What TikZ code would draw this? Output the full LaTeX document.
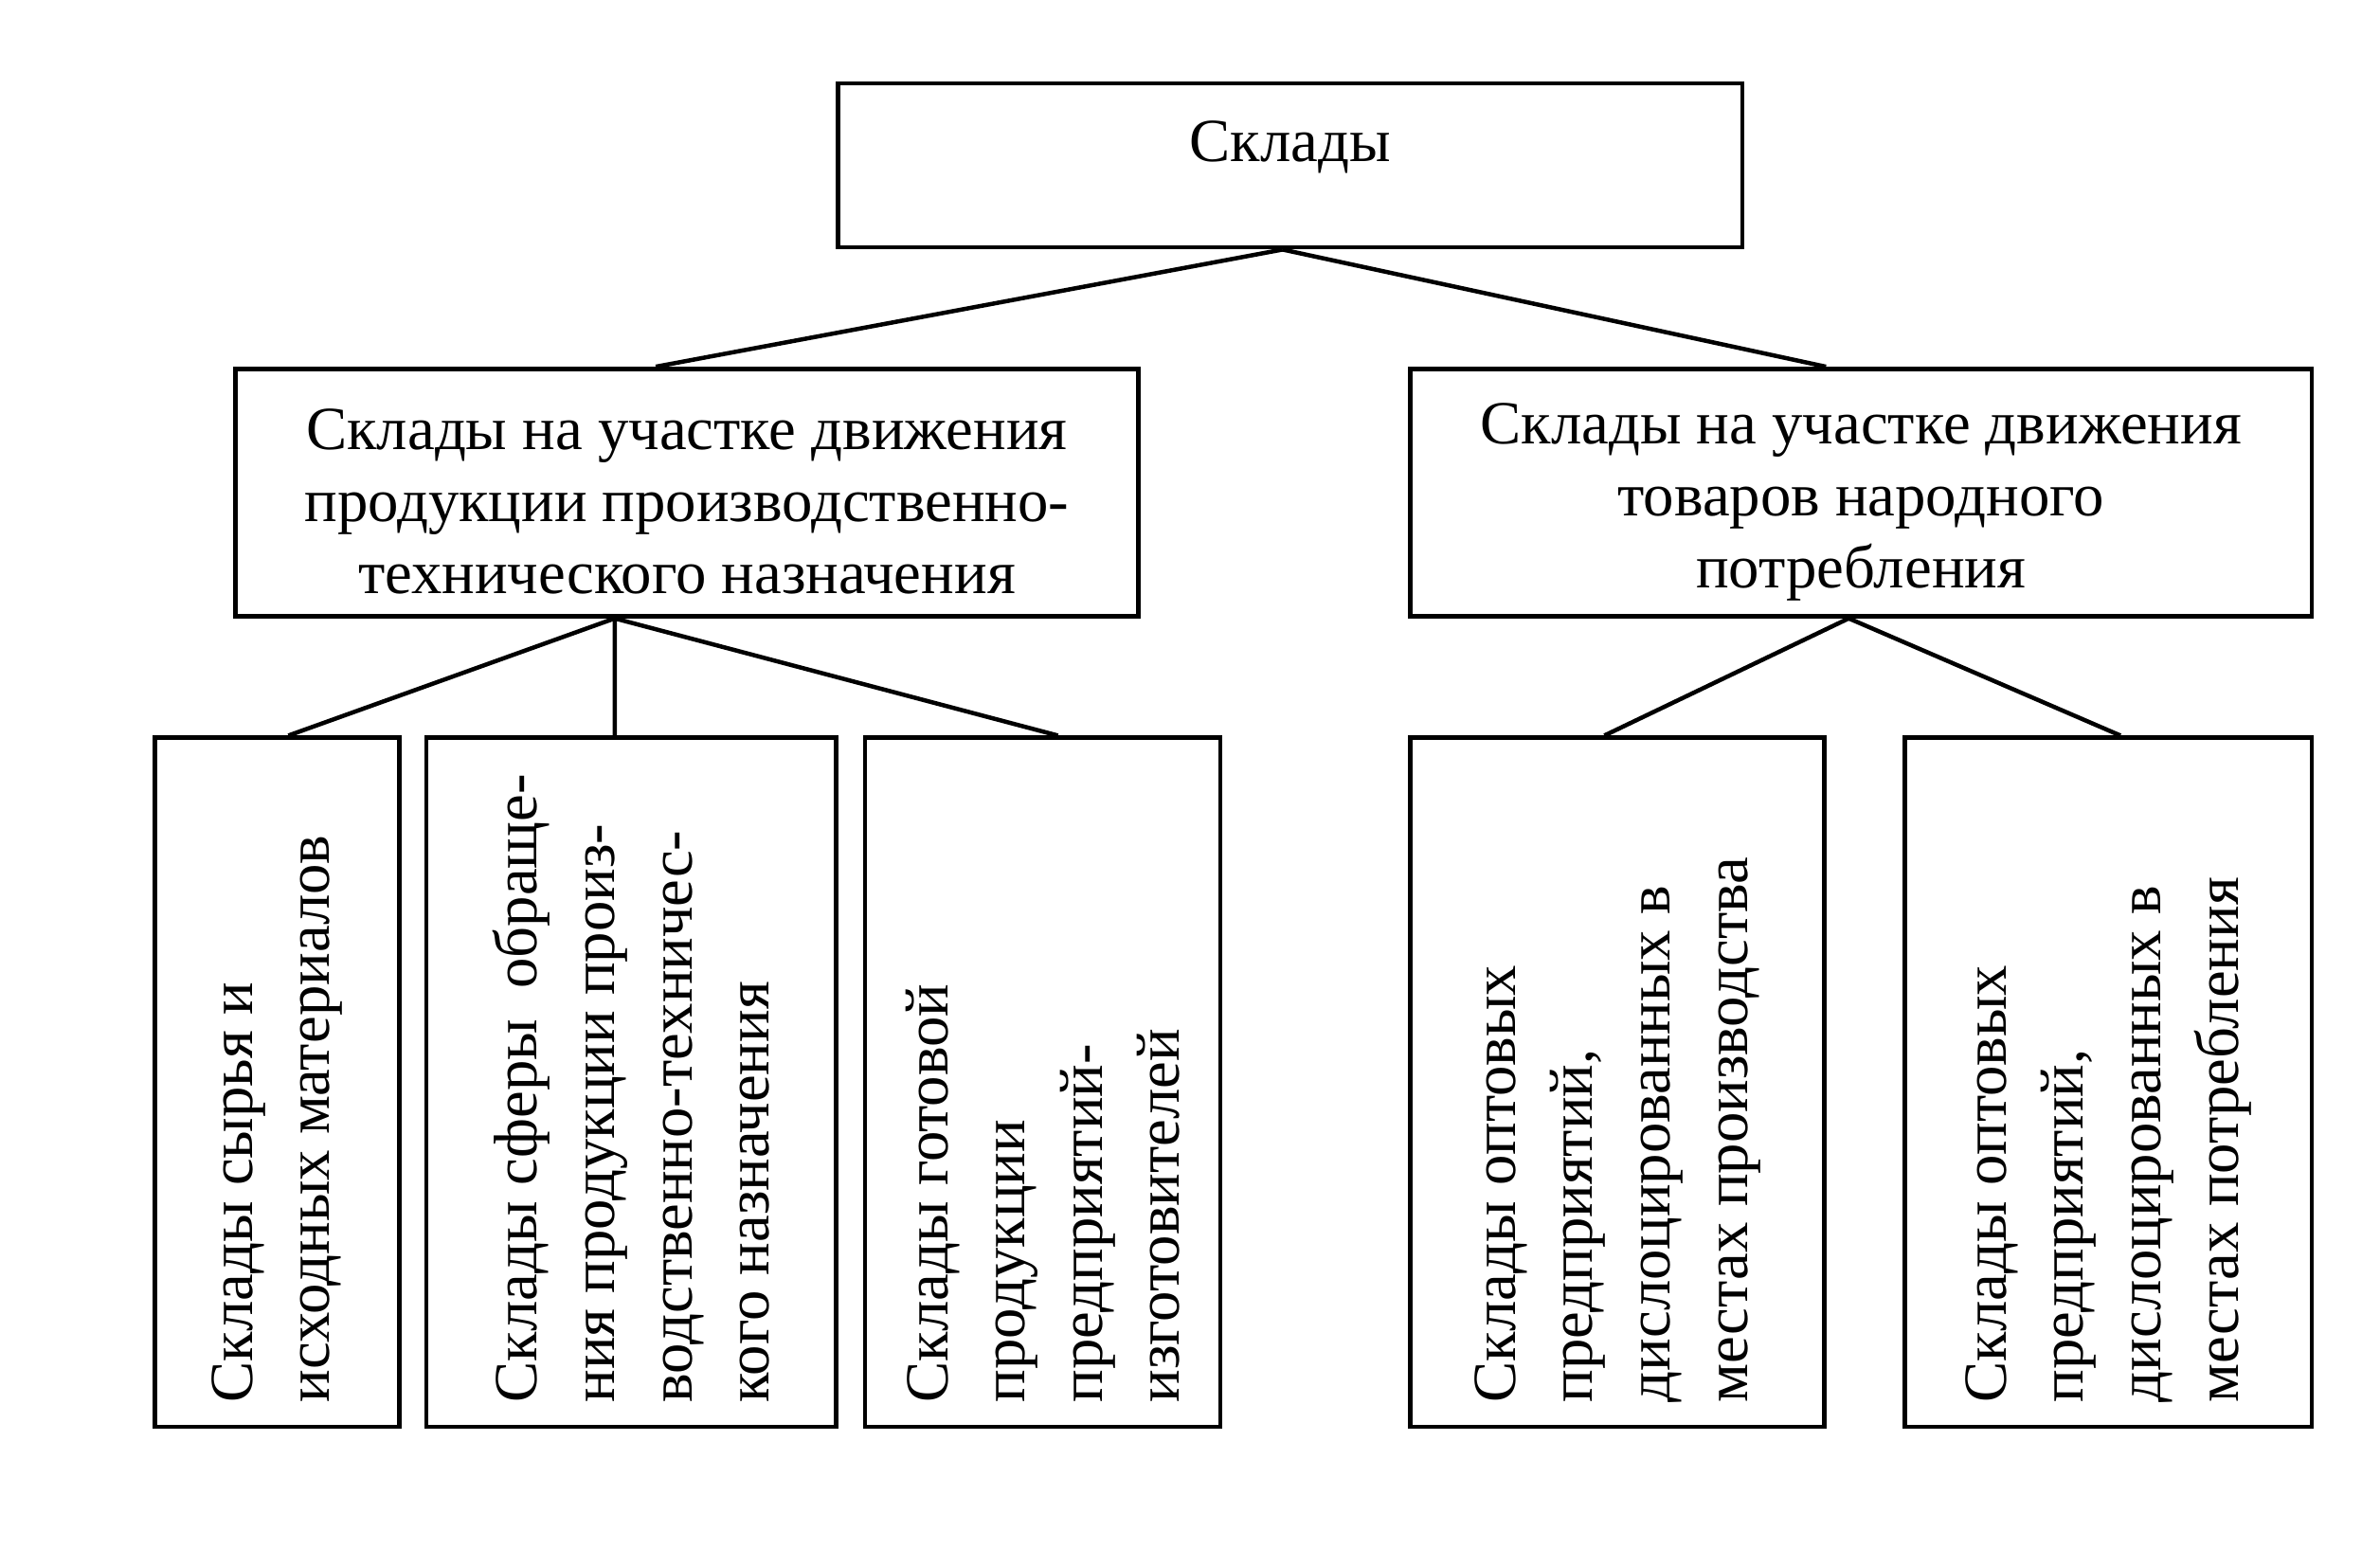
\documentclass[tikz,border=0pt]{standalone}
\usepackage{fontspec}
\setmainfont{Liberation Serif}
\usetikzlibrary{calc}

\begin{document}
\begin{tikzpicture}[
		box/.style={draw, line width=0.8pt, inner sep=0pt, align=center, font=\fontsize{11.5}{13.5}\selectfont},
		vbox/.style={box, rotate=90, align=flush left, text width=4.22cm, minimum width=4.54cm, font=\fontsize{11.5}{14.5}\selectfont},
		link/.style={line width=0.8pt}]
			%%%%% START %%%%%
			\useasboundingbox (0, 0) rectangle (15.68, -10.32);
			
			\node[box, minimum width=5.96cm, minimum height=1.08cm, text height=0.3cm, text depth=0.35cm] (sklady) at (8.50, -1.09) {Склады};
			
			\node[box, minimum width=5.95cm, minimum height=1.63cm] (proizv) at (4.525, -3.245) {\rule{0pt}{0.39cm}Склады на участке движения\\продукции производственно-\\технического назначения};
			\node[box, minimum width=5.94cm, minimum height=1.63cm] (narod) at (12.26, -3.245) {\rule{0pt}{0.39cm}Склады на участке движения\\товаров народного\\потребления};
			
			\node[vbox, minimum height=1.61cm] (syrje) at (1.825, -7.13) {Склады сырья и\\исходных материалов};
			\node[vbox, minimum height=2.70cm] (sfera) at (4.16, -7.13) {Склады~сферы~~обраще-\\ния продукции произ-\\водственно-техничес-\\кого назначения};
			\node[vbox, minimum height=2.34cm] (gotov) at (6.87, -7.13) {Склады готовой\\продукции\\предприятий-\\изготовителей};
			\node[vbox, minimum height=2.73cm] (optproizv) at (10.655, -7.13) {Склады оптовых\\предприятий,\\дислоцированных в\\местах производства};
			\node[vbox, minimum height=2.68cm] (optpotr) at (13.89, -7.13) {Склады оптовых\\предприятий,\\дислоцированных в\\местах потребления};
			
			\draw[link] ([xshift=-0.05cm]sklady.south) -- ([xshift=-0.205cm]proizv.north);
			\draw[link] ([xshift=-0.05cm]sklady.south) -- ([xshift=-0.23cm]narod.north);
			
			\draw[link] ([xshift=-0.475cm]proizv.south) -- ([xshift=0.075cm]syrje.east);
			\draw[link] ([xshift=-0.475cm]proizv.south) -- ([xshift=-0.11cm]sfera.east);
			\draw[link] ([xshift=-0.475cm]proizv.south) -- ([xshift=0.10cm]gotov.east);
			
			\draw[link] ([xshift=-0.08cm]narod.south) -- ([xshift=-0.085cm]optproizv.east);
			\draw[link] ([xshift=-0.08cm]narod.south) -- ([xshift=0.08cm]optpotr.east);
			%%%%% END %%%%%
\end{tikzpicture}
\end{document}
